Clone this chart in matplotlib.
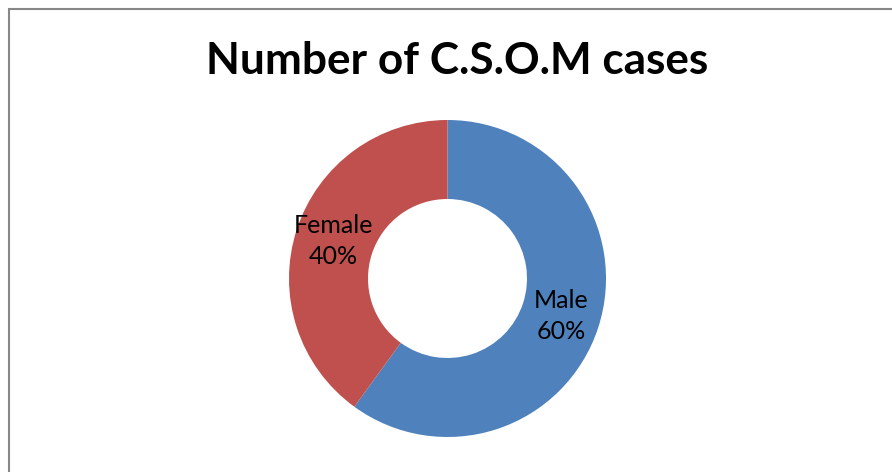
import matplotlib.pyplot as plt
from matplotlib.patches import Rectangle

categories = ["Male", "Female"]
shares = [60, 40]
colors = ["#4F81BD", "#C0504D"]
title = "Number of C.S.O.M cases"

W, H = 892, 472
fig = plt.figure(figsize=(W / 100, H / 100), dpi=100)
ax = fig.add_axes([0, 0, 1, 1])

labels = [f"{c}\n{v}%" for c, v in zip(categories, shares)]
wedges, texts = ax.pie(shares, labels=labels, colors=colors, startangle=90,
                       counterclock=False, center=(447.5, H - 278.5), radius=158.5,
                       labeldistance=0.757, wedgeprops=dict(width=79, linewidth=0),
                       textprops=dict(fontsize=18, family="Lato", color="black"))
for t in texts:
    t.set_ha("center")
    t.set_va("center")
    t.set_linespacing(1.42)

ax.set_xlim(0, W)
ax.set_ylim(0, H)
ax.set_aspect("equal")
ax.axis("off")

# chart border (only left and top visible)
ax.add_patch(Rectangle((8.5, -20), W + 20, H - 8.5 + 20, fill=False,
                       edgecolor="#878787", linewidth=1.5))

ax.text(457, H - 61, title, ha="center", va="center", fontsize=31.8,
        fontweight="bold", family="Lato")

fig.savefig("out.png", dpi=100)
